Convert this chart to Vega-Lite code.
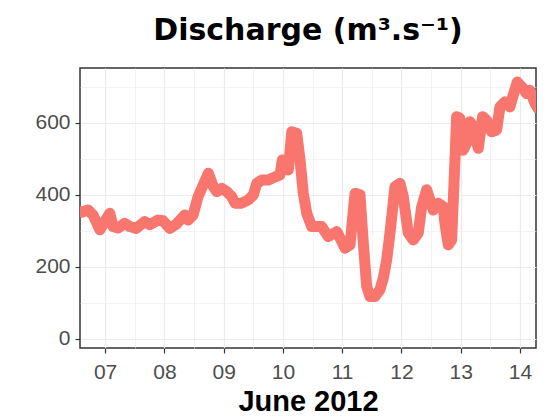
{
  "$schema": "https://vega.github.io/schema/vega-lite/v6.json",
  "width": 456,
  "height": 280,
  "autosize": "none",
  "padding": {"left": 80, "top": 68, "right": 10, "bottom": 70},
  "title": {
    "text": "Discharge (m³.s⁻¹)",
    "font": "DejaVu Sans",
    "fontSize": 30,
    "fontWeight": "bold",
    "color": "#000000",
    "anchor": "middle",
    "frame": "group",
    "baseline": "alphabetic",
    "offset": -2
  },
  "data": {
    "values": [
      {"time": "2012-06-06T13:30", "discharge": 353},
      {"time": "2012-06-06T14:25", "discharge": 352},
      {"time": "2012-06-06T17:07", "discharge": 358},
      {"time": "2012-06-06T19:08", "discharge": 344},
      {"time": "2012-06-06T21:51", "discharge": 303},
      {"time": "2012-06-07T01:54", "discharge": 349},
      {"time": "2012-06-07T03:14", "discharge": 312},
      {"time": "2012-06-07T05:16", "discharge": 308},
      {"time": "2012-06-07T07:58", "discharge": 321},
      {"time": "2012-06-07T10:00", "discharge": 312},
      {"time": "2012-06-07T12:40", "discharge": 307},
      {"time": "2012-06-07T16:04", "discharge": 326},
      {"time": "2012-06-07T18:05", "discharge": 317},
      {"time": "2012-06-07T21:27", "discharge": 330},
      {"time": "2012-06-07T23:29", "discharge": 328},
      {"time": "2012-06-08T02:11", "discharge": 307},
      {"time": "2012-06-08T04:52", "discharge": 319},
      {"time": "2012-06-08T08:16", "discharge": 344},
      {"time": "2012-06-08T09:36", "discharge": 330},
      {"time": "2012-06-08T11:37", "discharge": 344},
      {"time": "2012-06-08T13:39", "discharge": 395},
      {"time": "2012-06-08T17:49", "discharge": 460},
      {"time": "2012-06-08T19:50", "discharge": 423},
      {"time": "2012-06-08T21:13", "discharge": 409},
      {"time": "2012-06-08T23:14", "discharge": 418},
      {"time": "2012-06-09T01:16", "discharge": 409},
      {"time": "2012-06-09T03:17", "discharge": 395},
      {"time": "2012-06-09T04:37", "discharge": 377},
      {"time": "2012-06-09T07:20", "discharge": 377},
      {"time": "2012-06-09T10:01", "discharge": 386},
      {"time": "2012-06-09T12:02", "discharge": 400},
      {"time": "2012-06-09T13:25", "discharge": 432},
      {"time": "2012-06-09T15:26", "discharge": 441},
      {"time": "2012-06-09T18:06", "discharge": 441},
      {"time": "2012-06-09T20:49", "discharge": 450},
      {"time": "2012-06-09T22:50", "discharge": 455},
      {"time": "2012-06-09T23:46", "discharge": 497},
      {"time": "2012-06-10T00:52", "discharge": 478},
      {"time": "2012-06-10T02:12", "discharge": 469},
      {"time": "2012-06-10T03:35", "discharge": 575},
      {"time": "2012-06-10T05:36", "discharge": 571},
      {"time": "2012-06-10T06:56", "discharge": 497},
      {"time": "2012-06-10T08:16", "discharge": 404},
      {"time": "2012-06-10T09:39", "discharge": 349},
      {"time": "2012-06-10T11:40", "discharge": 312},
      {"time": "2012-06-10T14:21", "discharge": 312},
      {"time": "2012-06-10T15:43", "discharge": 312},
      {"time": "2012-06-10T18:23", "discharge": 284},
      {"time": "2012-06-10T21:47", "discharge": 298},
      {"time": "2012-06-10T23:08", "discharge": 280},
      {"time": "2012-06-11T01:09", "discharge": 252},
      {"time": "2012-06-11T03:11", "discharge": 261},
      {"time": "2012-06-11T05:12", "discharge": 404},
      {"time": "2012-06-11T07:13", "discharge": 400},
      {"time": "2012-06-11T08:34", "discharge": 266},
      {"time": "2012-06-11T09:56", "discharge": 146},
      {"time": "2012-06-11T11:16", "discharge": 118},
      {"time": "2012-06-11T13:18", "discharge": 118},
      {"time": "2012-06-11T15:19", "discharge": 137},
      {"time": "2012-06-11T16:40", "discharge": 169},
      {"time": "2012-06-11T18:02", "discharge": 220},
      {"time": "2012-06-11T19:22", "discharge": 294},
      {"time": "2012-06-11T21:23", "discharge": 423},
      {"time": "2012-06-11T23:25", "discharge": 432},
      {"time": "2012-06-12T00:45", "discharge": 395},
      {"time": "2012-06-12T02:47", "discharge": 294},
      {"time": "2012-06-12T04:48", "discharge": 275},
      {"time": "2012-06-12T06:49", "discharge": 294},
      {"time": "2012-06-12T08:12", "discharge": 367},
      {"time": "2012-06-12T10:13", "discharge": 414},
      {"time": "2012-06-12T11:34", "discharge": 386},
      {"time": "2012-06-12T12:54", "discharge": 358},
      {"time": "2012-06-12T14:55", "discharge": 377},
      {"time": "2012-06-12T16:56", "discharge": 367},
      {"time": "2012-06-12T17:38", "discharge": 321},
      {"time": "2012-06-12T18:58", "discharge": 261},
      {"time": "2012-06-12T20:20", "discharge": 275},
      {"time": "2012-06-12T21:41", "discharge": 497},
      {"time": "2012-06-12T22:22", "discharge": 617},
      {"time": "2012-06-12T23:42", "discharge": 612},
      {"time": "2012-06-13T01:02", "discharge": 524},
      {"time": "2012-06-13T02:25", "discharge": 543},
      {"time": "2012-06-13T03:45", "discharge": 603},
      {"time": "2012-06-13T05:05", "discharge": 589},
      {"time": "2012-06-13T07:07", "discharge": 529},
      {"time": "2012-06-13T08:53", "discharge": 617},
      {"time": "2012-06-13T10:31", "discharge": 607},
      {"time": "2012-06-13T12:32", "discharge": 575},
      {"time": "2012-06-13T14:34", "discharge": 580},
      {"time": "2012-06-13T15:54", "discharge": 644},
      {"time": "2012-06-13T17:55", "discharge": 658},
      {"time": "2012-06-13T19:56", "discharge": 644},
      {"time": "2012-06-13T21:17", "discharge": 677},
      {"time": "2012-06-13T22:54", "discharge": 713},
      {"time": "2012-06-14T01:20", "discharge": 695},
      {"time": "2012-06-14T02:42", "discharge": 681},
      {"time": "2012-06-14T04:02", "discharge": 690},
      {"time": "2012-06-14T06:04", "discharge": 654},
      {"time": "2012-06-14T07:18", "discharge": 640}
    ]
  },
  "mark": {
    "type": "line",
    "color": "#F8766D",
    "strokeWidth": 11,
    "strokeCap": "round",
    "strokeJoin": "round",
    "clip": true
  },
  "encoding": {
    "x": {
      "field": "time",
      "type": "temporal",
      "scale": {
        "domain": [
          {"year": 2012, "month": 6, "date": 6, "hours": 13, "minutes": 50},
          {"year": 2012, "month": 6, "date": 14, "hours": 6, "minutes": 30}
        ]
      },
      "axis": {
        "values": [
          {"year": 2012, "month": 6, "date": 7, "hours": 0},
          {"year": 2012, "month": 6, "date": 7, "hours": 12},
          {"year": 2012, "month": 6, "date": 8, "hours": 0},
          {"year": 2012, "month": 6, "date": 8, "hours": 12},
          {"year": 2012, "month": 6, "date": 9, "hours": 0},
          {"year": 2012, "month": 6, "date": 9, "hours": 12},
          {"year": 2012, "month": 6, "date": 10, "hours": 0},
          {"year": 2012, "month": 6, "date": 10, "hours": 12},
          {"year": 2012, "month": 6, "date": 11, "hours": 0},
          {"year": 2012, "month": 6, "date": 11, "hours": 12},
          {"year": 2012, "month": 6, "date": 12, "hours": 0},
          {"year": 2012, "month": 6, "date": 12, "hours": 12},
          {"year": 2012, "month": 6, "date": 13, "hours": 0},
          {"year": 2012, "month": 6, "date": 13, "hours": 12},
          {"year": 2012, "month": 6, "date": 14, "hours": 0}
        ],
        "labelExpr": "hours(datum.value) == 12 ? '' : timeFormat(datum.value, '%d')",
        "labelBaseline": "alphabetic",
        "labelPadding": 25,
        "labelFlush": false,
        "labelOverlap": false,
        "tickOpacity": {"condition": {"test": "hours(datum.value) == 12", "value": 0}, "value": 1},
        "gridWidth": {"condition": {"test": "hours(datum.value) == 12", "value": 0.6}, "value": 1.2},
        "title": "June 2012",
        "titleFont": "Liberation Sans",
        "titleFontSize": 29,
        "titleFontWeight": "bold",
        "titleColor": "#000000",
        "titleBaseline": "alphabetic",
        "titleY": 62
      }
    },
    "y": {
      "field": "discharge",
      "type": "quantitative",
      "scale": {"domain": [-25, 752], "nice": false, "zero": false},
      "axis": {
        "values": [0, 100, 200, 300, 400, 500, 600, 700],
        "labelExpr": "datum.value % 200 == 0 ? datum.label : ''",
        "labelPadding": 5,
        "labelOverlap": false,
        "tickOpacity": {"condition": {"test": "datum.value % 200 != 0", "value": 0}, "value": 1},
        "gridWidth": {"condition": {"test": "datum.value % 200 != 0", "value": 0.6}, "value": 1.2},
        "title": null
      }
    }
  },
  "config": {
    "view": {"stroke": "#333333", "strokeWidth": 1.5},
    "axis": {
      "domain": false,
      "grid": true,
      "gridColor": "#EBEBEB",
      "tickColor": "#333333",
      "tickWidth": 1.2,
      "tickSize": 5,
      "labelFont": "Liberation Sans",
      "labelFontSize": 21,
      "labelColor": "#4D4D4D"
    }
  }
}
